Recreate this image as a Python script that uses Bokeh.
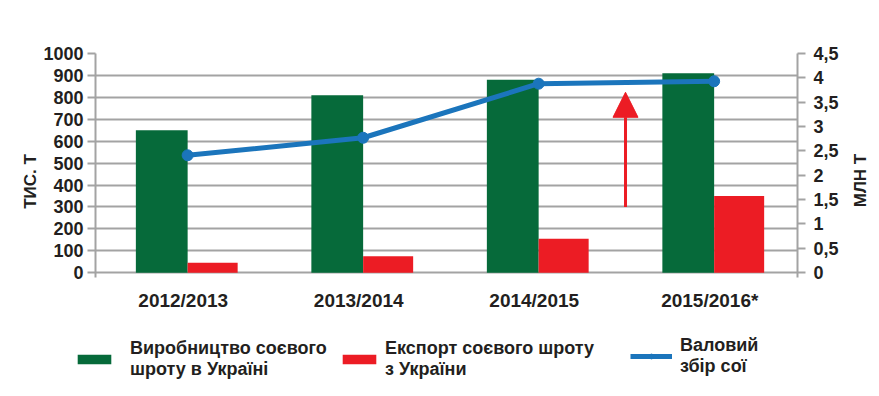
import math
from bokeh.plotting import figure
from bokeh.layouts import column, row
from bokeh.models import (ColumnDataSource, Range1d, FactorRange, LinearAxis, FixedTicker,
                          CustomJSTickFormatter, Legend, LegendItem, Arrow, NormalHead, Label)
from bokeh.transform import dodge
from bokeh.embed import file_html
from bokeh.resources import INLINE

# ---- data ----
seasons = ["2012/2013", "2013/2014", "2014/2015", "2015/2016*"]
production = [650, 810, 880, 910]        # тис. т
export = [45, 75, 155, 350]              # тис. т
harvest = [2.41, 2.77, 3.88, 3.93]       # млн т
left_ticks = [0, 100, 200, 300, 400, 500, 600, 700, 800, 900, 1000]
right_ticks = [0, 0.5, 1, 1.5, 2, 2.5, 3, 3.5, 4, 4.5]
left_title = "ТИС. Т"
right_title = "МЛН Т"
legend_labels = ["Виробництво соєвого\nшроту в Україні", "Експорт соєвого шроту\nз України", "Валовий\nзбір сої"]

GREEN = "#066a3a"
RED = "#ec1c24"
BLUE = "#1b75bc"
GRID = "#a3a3a3"
TXT = "#231f20"
FONT = "Liberation Sans"

src = ColumnDataSource(dict(season=seasons, production=production, export=export, harvest=harvest))

p = figure(width=805, height=320, x_range=seasons, y_range=Range1d(-22, 1000),
           output_backend="svg", toolbar_location=None,
           min_border_left=54, min_border_right=48, min_border_top=53, min_border_bottom=43)
p.frame_align = False
p.outline_line_color = None
p.xgrid.grid_line_color = None
p.ygrid.grid_line_color = GRID
p.ygrid.grid_line_width = 2
p.x_range.range_padding = 0

p.extra_y_ranges = {"right": Range1d(-0.099, 4.5)}

# left axis
ya = p.yaxis[0]
ya.ticker = FixedTicker(ticks=left_ticks)
ya.axis_line_color = GRID
ya.axis_line_width = 2
ya.major_tick_line_color = GRID
ya.major_tick_line_width = 2
ya.major_tick_out = 8
ya.major_tick_in = 0
ya.minor_tick_line_color = None
ya.major_label_standoff = 4
ya.major_label_text_font = FONT
ya.major_label_text_font_size = "18px"
ya.major_label_text_font_style = "bold"
ya.major_label_text_color = TXT

# right axis
ra = LinearAxis(y_range_name="right", ticker=FixedTicker(ticks=right_ticks),
                formatter=CustomJSTickFormatter(code="return tick.toString().replace('.', ',');"))
ra.axis_line_color = GRID
ra.axis_line_width = 2
ra.major_tick_line_color = GRID
ra.major_tick_line_width = 2
ra.major_tick_out = 8
ra.major_tick_in = 0
ra.minor_tick_line_color = None
ra.major_label_standoff = 8
ra.major_label_text_font = FONT
ra.major_label_text_font_size = "18px"
ra.major_label_text_font_style = "bold"
ra.major_label_text_color = TXT
p.add_layout(ra, "right")

# x axis
xa = p.xaxis[0]
xa.axis_line_color = None
xa.major_tick_line_color = None
xa.minor_tick_line_color = None
xa.major_label_standoff = 6
xa.major_label_text_font = FONT
xa.major_label_text_font_size = "19px"
xa.major_label_text_font_style = "bold"
xa.major_label_text_color = TXT

# bars
g = p.vbar(x=dodge("season", -0.1225, range=p.x_range), top="production", width=0.295,
           source=src, fill_color=GREEN, line_color=None)
r = p.vbar(x=dodge("season", 0.1675, range=p.x_range), top="export", width=0.285,
           source=src, fill_color=RED, line_color=None)

# line
ln = p.line(x=dodge("season", 0.025, range=p.x_range), y="harvest", source=src,
            y_range_name="right", line_color=BLUE, line_width=5)
mk = p.scatter(x=dodge("season", 0.025, range=p.x_range), y="harvest", source=src,
               y_range_name="right", size=11, fill_color=BLUE, line_color=BLUE)

# arrow
p.add_layout(Arrow(x_start=3.02, y_start=300, x_end=3.02, y_end=823,
                   line_color=RED, line_width=3,
                   end=NormalHead(size=25, fill_color=RED, line_color=RED, line_width=1)))

# ---- axis title strips (both read bottom-to-top) ----
def title_strip(width, text, sx, sy):
    f = figure(width=width, height=320, x_range=Range1d(0, 1), y_range=Range1d(0, 1),
               output_backend="svg", toolbar_location=None, min_border=0,
               x_axis_location=None, y_axis_location=None)
    f.frame_align = False
    f.outline_line_color = None
    f.grid.grid_line_color = None
    f.add_layout(Label(x=sx, y=sy, x_units="screen", y_units="screen", text=text, angle=math.pi / 2,
                       text_align="center", text_baseline="middle", text_font=FONT,
                       text_font_size="17px", text_font_style="bold", text_color=TXT))
    return f

lt = title_strip(40, left_title, 29.5, 139)
rt = title_strip(26, right_title, 15, 140)

# ---- legend panel: hidden copies of the series, used only as legend proxies ----
q = figure(width=871, height=68, x_range=FactorRange(factors=seasons), y_range=Range1d(0, 1000),
           output_backend="svg", toolbar_location=None, min_border=0,
           x_axis_location=None, y_axis_location=None)
q.frame_align = False
q.outline_line_color = None
q.grid.grid_line_color = None
lg_g = q.vbar(x="season", top="production", width=0.3, source=src, fill_color=GREEN, line_color=None, visible=False)
lg_r = q.vbar(x="season", top="export", width=0.3, source=src, fill_color=RED, line_color=None, visible=False)
lg_l = q.line(x="season", y="harvest", source=src, line_color=BLUE, line_width=5, visible=False)
lg_m = q.scatter(x="season", y="harvest", source=src, size=11, fill_color=BLUE, line_color=BLUE, visible=False)

def make_legend(label, renderers, loc, standoff):
    return Legend(items=[LegendItem(label=label, renderers=renderers)],
                  orientation="horizontal", location=loc,
                  glyph_width=42, glyph_height=12, label_standoff=standoff, spacing=0,
                  padding=0, margin=0, border_line_color=None, background_fill_alpha=0,
                  inactive_fill_alpha=0,
                  label_text_font=FONT, label_text_font_size="18px", label_text_font_style="bold",
                  label_text_color=TXT, label_text_line_height=0.85)

q.add_layout(make_legend(legend_labels[0], [lg_g], (73, 8), 15), "center")
q.add_layout(make_legend(legend_labels[1], [lg_r], (338, 8), 5), "center")
q.add_layout(make_legend(legend_labels[2], [lg_l, lg_m], (630, 11), 8), "center")

layout = column(row(lt, p, rt), q)
open("out.html", "w").write(file_html(layout, INLINE))
